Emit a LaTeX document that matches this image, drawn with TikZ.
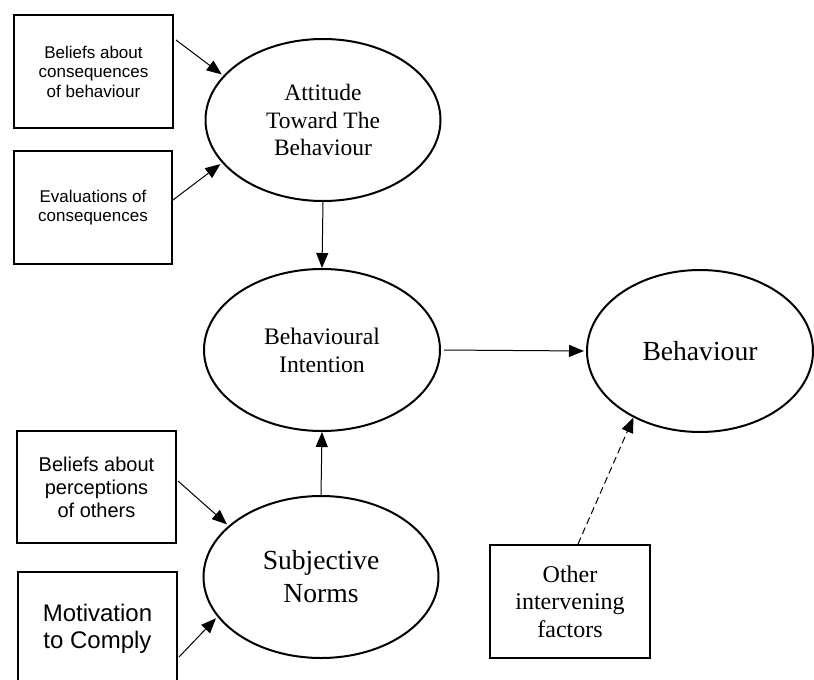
\documentclass[tikz,border=0pt]{standalone}
\usepackage{fontspec}
\setmainfont{Liberation Serif}
\newfontfamily\arialf{Liberation Sans}
\usetikzlibrary{arrows.meta,shapes.geometric}
\begin{document}
\begin{tikzpicture}[x=1pt,y=-1pt,
  box/.style={draw,line width=2pt,rectangle,inner sep=0pt,align=center},
  ell/.style={draw,line width=2pt,ellipse,inner sep=0pt,align=center,minimum width=236pt,minimum height=162pt},
  arr/.style={line width=1pt,-{Triangle[length=15pt,width=12pt]}},
  sansA/.style={font={\arialf\fontsize{17}{19.5}\selectfont}},
  sansB/.style={font={\arialf\fontsize{20}{23}\selectfont}},
  sansC/.style={font={\arialf\fontsize{24}{27}\selectfont}},
]
\useasboundingbox (0,0) rectangle (814,680);
\clip (0,0) rectangle (814,680);

% boxes
\node[box,sansA,minimum width=159pt,minimum height=113pt] (b1) at (93.5,71.5) {Beliefs about\\consequences\\of behaviour};
\node[box,sansA,minimum width=158pt,minimum height=113pt] (b2) at (93,207.5) {Evaluations of\\consequences};
\node[box,sansB,minimum width=159pt,minimum height=112pt] (b3) at (96.5,487) {Beliefs about\\perceptions\\of others};
\node[box,minimum width=159pt,minimum height=136pt] (b4) at (97.5,640) {};
\node[sansC,align=center,inner sep=0pt] (t4) at (97.5,628.5) {Motivation\\to Comply};
\node[box,font={\fontsize{24}{27.5}\selectfont},minimum width=160pt,minimum height=113pt] (b5) at (570,601.5) {Other\\intervening\\factors};

% ellipses
\node[ell,minimum width=235pt,font={\fontsize{23.5}{27.5}\selectfont}] (att) at (323,120) {Attitude\\Toward The\\Behaviour};
\node[ell,font={\fontsize{23.7}{28}\selectfont}] (int) at (322,350) {Behavioural\\Intention};
\node[ell,minimum width=226pt,font={\fontsize{27.6}{33}\selectfont}] (beh) at (700,351) {Behaviour};
\node[ell,minimum width=235pt,font={\fontsize{27.6}{33}\selectfont}] (sub) at (321,577) {Subjective\\Norms};

% connectors
\draw[arr,shorten >=2pt] ([xshift=2pt,yshift=31.5pt]b1.east) -- (att.156);
\draw[arr,shorten >=2pt] ([xshift=0pt,yshift=7.5pt]b2.east) -- (att.203.5);
\draw[arr] (att.south) -- (int.north);
\draw[arr] (sub.north) -- (int.south);
\draw[arr,shorten <=3pt,shorten >=2pt] (int.east) -- (beh.west);
\draw[arr,shorten >=2pt] ([xshift=1pt,yshift=6pt]b3.east) -- (sub.151.3);
\draw[arr,shorten >=2pt] ([xshift=1pt,yshift=-17pt]b4.east) -- (sub.201);
\draw[arr,dash pattern=on 7pt off 4pt] ([xshift=8pt]b5.north) -- (beh.225);
\end{tikzpicture}
\end{document}
